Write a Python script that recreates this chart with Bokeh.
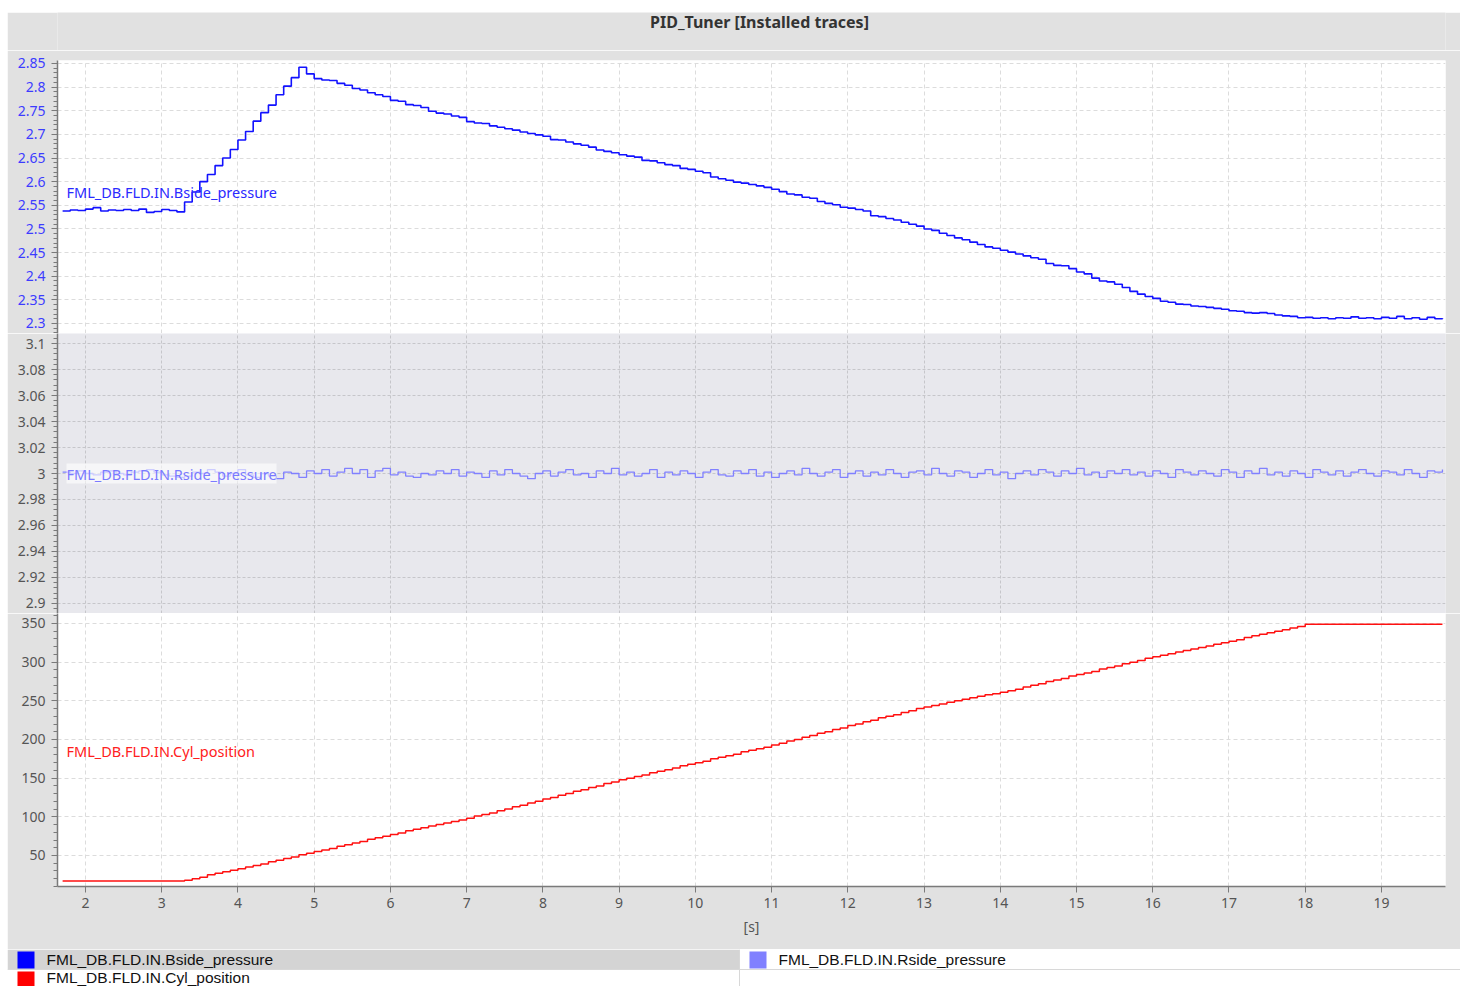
import numpy as np
from bokeh.plotting import figure
from bokeh.layouts import column, row
from bokeh.models import Range1d, FixedTicker, Label, Spacer
from bokeh.embed import file_html
from bokeh.resources import INLINE

# ---------------- data ----------------
T_START = 1.7   # s, first sample
T_STEP = 0.1    # s, sample period of the readings

bside_pressure = [
    2.538, 2.540, 2.539, 2.542, 2.545, 2.538, 2.540, 2.539, 2.541, 2.539,
    2.542, 2.535, 2.537, 2.541, 2.539, 2.536, 2.557, 2.578, 2.600, 2.615,
    2.634, 2.650, 2.668, 2.688, 2.706, 2.728, 2.746, 2.762, 2.784, 2.802,
    2.820, 2.842, 2.828,
    2.818, 2.815, 2.814, 2.808, 2.804, 2.797, 2.794, 2.788, 2.784, 2.780,
    2.772, 2.770, 2.763, 2.761, 2.757, 2.749, 2.745, 2.743, 2.739, 2.736,
    2.727, 2.724, 2.723, 2.718, 2.715, 2.712, 2.709, 2.705, 2.702, 2.699,
    2.696, 2.689, 2.688, 2.684, 2.680, 2.677, 2.673, 2.667, 2.664, 2.661,
    2.657, 2.654, 2.652, 2.645, 2.644, 2.640, 2.636, 2.634, 2.628, 2.626,
    2.622, 2.619, 2.610, 2.606, 2.603, 2.599, 2.597, 2.594, 2.591, 2.588,
    2.584, 2.579, 2.574, 2.572, 2.567, 2.565, 2.558, 2.554, 2.551, 2.546,
    2.544, 2.541, 2.538, 2.528, 2.526, 2.522, 2.519, 2.514, 2.510, 2.506,
    2.500, 2.497, 2.491, 2.486, 2.481, 2.477, 2.472, 2.467, 2.462, 2.459,
    2.455, 2.451, 2.447, 2.443, 2.439, 2.436, 2.427, 2.423, 2.422, 2.416,
    2.409, 2.405, 2.396, 2.390, 2.388, 2.383, 2.376, 2.368, 2.362, 2.357,
    2.353, 2.347, 2.345, 2.341, 2.340, 2.337, 2.336, 2.334, 2.332, 2.330,
    2.327, 2.326, 2.323, 2.322, 2.323, 2.321, 2.318, 2.316, 2.315, 2.312,
    2.313, 2.311, 2.312, 2.310, 2.312, 2.311, 2.314, 2.311, 2.312, 2.310,
    2.313, 2.311, 2.315, 2.310, 2.312, 2.309, 2.313, 2.310, 2.311,
]

rside_pressure = [
    3.001, 3.000, 3.002, 3.000, 2.999, 3.001, 3.002, 3.000, 2.999, 3.001,
    3.002, 3.003, 3.001, 2.999, 2.998, 2.997, 2.998, 3.001, 3.000, 3.003,
    3.001, 2.998, 3.000, 3.003, 2.999, 2.997, 3.000, 2.998, 2.996, 3.001,
    3.000, 2.997, 3.002, 3.000, 3.003, 2.998, 3.001, 3.004, 3.000, 3.003,
    2.997, 3.002, 3.004, 2.999, 3.001, 2.998, 2.997, 3.000, 2.999, 3.002,
    3.000, 3.003, 2.998, 3.001, 3.000, 2.997, 3.002, 2.999, 3.003, 3.000,
    2.998, 2.996, 3.000, 3.002, 2.998, 3.001, 3.003, 2.999, 3.000, 2.997,
    3.002, 3.000, 3.004, 2.999, 3.001, 2.998, 3.000, 3.003, 2.997, 3.001,
    2.999, 3.002, 3.000, 2.997, 3.001, 3.003, 2.999, 2.998, 3.002, 3.000,
    3.003, 2.998, 3.001, 2.997, 3.000, 3.002, 2.999, 3.004, 3.000, 2.998,
    3.001, 3.003, 2.997, 3.000, 3.002, 2.998, 3.001, 2.999, 3.003, 3.000,
    2.997, 3.001, 3.002, 2.999, 3.004, 3.000, 2.998, 3.002, 3.001, 2.997,
    3.000, 3.003, 2.999, 3.001, 2.996, 3.000, 3.002, 2.999, 3.003, 3.001,
    2.998, 3.002, 3.000, 3.004, 2.999, 3.001, 2.997, 3.002, 3.000, 3.003,
    2.999, 3.001, 2.998, 3.002, 3.000, 2.997, 3.003, 3.001, 2.999, 3.002,
    3.000, 2.998, 3.003, 3.001, 2.997, 3.002, 3.000, 3.004, 2.999, 3.001,
    2.998, 3.002, 3.000, 2.997, 3.003, 3.001, 2.999, 3.002, 2.998, 3.001,
    3.003, 3.000, 2.998, 3.002, 3.001, 2.999, 3.003, 3.000, 2.997, 3.002,
    3.001, 3.003,
]

cyl_position = [
    17, 17, 17, 17, 17, 17, 17, 17, 17, 17, 17, 17, 17, 17, 17, 17,
    18, 20, 22, 25, 27, 29, 31, 33,
    35, 37, 39, 42, 44, 46, 48, 51, 53, 55,
    57, 59, 62, 64, 66, 68, 71, 73, 75, 77,
    79, 82, 84, 86, 88, 90, 92, 94, 96, 98,
    101, 103, 105, 108, 110, 113, 115, 118, 120, 123,
    125, 128, 130, 133, 135, 138, 140, 143, 145, 148,
    150, 152, 154, 157, 159, 161, 163, 166, 168, 170,
    172, 175, 177, 179, 181, 184, 186, 188, 190, 193,
    195, 198, 200, 203, 205, 208, 210, 213, 215, 218,
    220, 223, 225, 228, 230, 232, 235, 237, 240, 242,
    244, 246, 248, 250, 252, 254, 256, 258, 259, 261,
    263, 265, 268, 270, 272, 275, 277, 279, 282, 284,
    286, 288, 291, 293, 295, 298, 300, 302, 305, 307,
    309, 311, 313, 315, 317, 319, 321, 323, 325, 327,
    329, 332, 334, 336, 338, 340, 342, 344, 346, 349,
    349, 349, 349, 349, 349, 349, 349, 349, 349,
    349, 349, 349, 349, 349, 349, 349, 349, 349,
]

x_ticks = [2, 3, 4, 5, 6, 7, 8, 9, 10, 11, 12, 13, 14, 15, 16, 17, 18, 19]
top_ticks = [2.3, 2.35, 2.4, 2.45, 2.5, 2.55, 2.6, 2.65, 2.7, 2.75, 2.8, 2.85]
top_labels = ["2.3", "2.35", "2.4", "2.45", "2.5", "2.55", "2.6", "2.65",
              "2.7", "2.75", "2.8", "2.85"]
mid_ticks = [2.9, 2.92, 2.94, 2.96, 2.98, 3.0, 3.02, 3.04, 3.06, 3.08, 3.1]
mid_labels = ["2.9", "2.92", "2.94", "2.96", "2.98", "3", "3.02", "3.04",
              "3.06", "3.08", "3.1"]
bot_ticks = [50, 100, 150, 200, 250, 300, 350]
bot_labels = ["50", "100", "150", "200", "250", "300", "350"]

trace_names = ["FML_DB.FLD.IN.Bside_pressure", "FML_DB.FLD.IN.Rside_pressure",
               "FML_DB.FLD.IN.Cyl_position"]
trace_colors = ["#1212ff", "#8080ff", "#ff1010"]
legend_colors = ["#0000ff", "#8080ff", "#ff0000"]
title_text = "PID_Tuner [Installed traces]"
x_label = "[s]"

# ---------------- styling ----------------
BG = "#e1e1e1"
AX = "#7a7a7a"
LBL = "#555555"
W = 1453
LEFT = 50
RIGHT = 15
TICK_FONT = "Noto Sans"

t = np.round(T_START + T_STEP * np.arange(len(bside_pressure)), 3)
x_range = Range1d(1.633, 19.84)


def make_panel(height, y_range, ticks, labels, minor, label_color, bg,
               grid_color, grid_dash, top=0, bottom=0):
    p = figure(width=W, height=height, x_range=x_range, y_range=y_range,
               output_backend="svg", toolbar_location=None,
               min_border_left=LEFT, min_border_right=RIGHT,
               min_border_top=top, min_border_bottom=bottom,
               background_fill_color=bg, border_fill_color=BG,
               outline_line_color=None)
    ax = p.yaxis[0]
    ax.ticker = FixedTicker(ticks=ticks, minor_ticks=minor)
    ax.major_label_overrides = dict(zip(ticks, labels))
    ax.axis_line_color = AX
    ax.axis_line_width = 1.5
    ax.major_tick_line_color = AX
    ax.minor_tick_line_color = AX
    ax.major_tick_out = 6
    ax.major_tick_in = 0
    ax.minor_tick_out = 4
    ax.minor_tick_in = 0
    ax.major_label_standoff = 6
    ax.major_label_text_color = label_color
    ax.major_label_text_font = TICK_FONT
    ax.major_label_text_font_size = "14px"
    p.xaxis.visible = False
    p.xgrid.ticker = FixedTicker(ticks=x_ticks)
    p.ygrid.ticker = FixedTicker(ticks=ticks)
    for g in (p.xgrid, p.ygrid):
        g.grid_line_color = grid_color
        g.grid_line_dash = grid_dash
        g.grid_line_width = 1
    return p


# header with the title
HEAD_H = 38
head = figure(width=W, height=HEAD_H, x_range=Range1d(57, 1445),
              y_range=Range1d(HEAD_H, 0), output_backend="svg",
              toolbar_location=None, min_border_left=LEFT,
              min_border_right=RIGHT, min_border_top=0, min_border_bottom=0,
              x_axis_location=None, y_axis_location=None,
              background_fill_color=BG, border_fill_color=BG,
              outline_line_color=None)
head.grid.visible = False
head.text(x=[759], y=[9], text=[title_text], text_align="center",
          text_baseline="middle", text_font={"value": "Noto Sans"},
          text_font_size="16px", text_font_style="bold", text_color="#333333")

# top panel : Bside pressure
TOP_COLOR = "#3c3cff"
p_top = make_panel(283, Range1d(2.2788, 2.8563), top_ticks, top_labels,
                   [round(2.28 + 0.01 * i, 3) for i in range(58)],
                   TOP_COLOR, "white", "#dcdcdc", "4 3", top=10)
p_top.step(t, bside_pressure, mode="after", line_color=trace_colors[0],
           line_width=1.6)
p_top.add_layout(Label(x=9, x_units="screen", y=2.579, text=trace_names[0],
                       text_baseline="middle", text_color="#2a2aff",
                       text_font="Noto Sans", text_font_size="14.5px"))

# middle panel : Rside pressure
p_mid = make_panel(280, Range1d(2.8923, 3.1077), mid_ticks, mid_labels,
                   [round(2.892 + 0.004 * i, 3) for i in range(55)],
                   LBL, "#e8e8ed", "#c6c6ca", "3 2")
p_mid.step(t, rside_pressure, mode="after", line_color=trace_colors[1],
           line_width=1.3)
p_mid.add_layout(Label(x=9, x_units="screen", y=3.0, text=trace_names[1],
                       text_baseline="middle", text_color="#7a7aff",
                       text_font="Noto Sans", text_font_size="14.5px",
                       background_fill_color="white",
                       background_fill_alpha=0.6))

# bottom panel : cylinder position + x axis
p_bot = make_panel(336, Range1d(9.9, 362.9), bot_ticks, bot_labels,
                   list(range(10, 370, 10)), LBL, "white", "#dcdcdc", "4 3",
                   bottom=63)
p_bot.xaxis.visible = True
xa = p_bot.xaxis[0]
xa.ticker = FixedTicker(ticks=x_ticks)
xa.axis_line_color = AX
xa.axis_line_width = 1.5
xa.major_tick_line_color = AX
xa.major_tick_out = 6
xa.major_tick_in = 0
xa.minor_tick_out = 0
xa.major_label_standoff = 5
xa.major_label_text_color = LBL
xa.major_label_text_font = TICK_FONT
xa.major_label_text_font_size = "14px"
xa.axis_label = x_label
xa.axis_label_text_font = TICK_FONT
xa.axis_label_text_font_size = "14px"
xa.axis_label_text_font_style = "normal"
xa.axis_label_text_color = LBL
xa.axis_label_standoff = 6
p_bot.step(t, cyl_position, mode="after", line_color=trace_colors[2],
           line_width=1.5)
p_bot.add_layout(Label(x=9, x_units="screen", y=185, text=trace_names[2],
                       text_baseline="middle", text_color="#ff2020",
                       text_font="Noto Sans", text_font_size="14.5px"))

# legend strip (table of trace names)
LEG_H = 37
leg = figure(width=W, height=LEG_H, x_range=Range1d(0, W),
             y_range=Range1d(LEG_H, 0), output_backend="svg",
             toolbar_location=None, min_border=0,
             x_axis_location=None, y_axis_location=None,
             background_fill_color="white", border_fill_color="white",
             outline_line_color=None)
leg.grid.visible = False
CELL_W = 732
ROW_H = 20
leg_col = [0, 1, 0]
leg_row = [0, 0, 1]
leg_text_y = [10, 10, 28]
leg.quad(left=[0], right=[CELL_W], top=[0], bottom=[ROW_H],
         fill_color="#d4d4d4", line_color=None)
leg.segment(x0=[0, CELL_W], y0=[ROW_H, 0], x1=[W, CELL_W], y1=[ROW_H, LEG_H],
            line_color="#d8d8d8", line_width=1)
cl = [c * CELL_W for c in leg_col]
rt = [r * ROW_H for r in leg_row]
leg.quad(left=[c + 10 for c in cl], right=[c + 27 for c in cl],
         top=[r + 2 for r in rt], bottom=[r + 19 for r in rt],
         fill_color=legend_colors, line_color=None)
leg.text(x=[c + 39 for c in cl], y=leg_text_y, text=trace_names,
         text_baseline="middle", text_font_size="15.5px",
         text_font={"value": "Liberation Sans"}, text_color="#111111")

layout = column(
    Spacer(height=12, width=W + 7),
    row(Spacer(width=7, height=10),
        column(head, p_top, p_mid, p_bot, spacing=0), spacing=0),
    row(Spacer(width=7, height=LEG_H), leg, spacing=0),
    spacing=0)
open("out.html", "w").write(file_html(layout, INLINE))
